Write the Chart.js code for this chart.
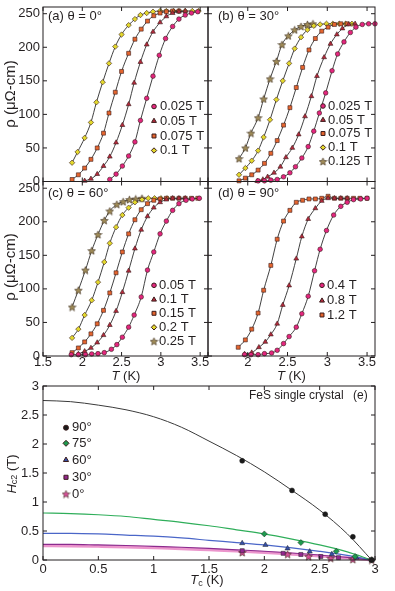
<!DOCTYPE html>
<html>
<head>
<meta charset="utf-8">
<script src="https://cdn.jsdelivr.net/npm/chart.js@4.4.1/dist/chart.umd.min.js"></script>
<style>
html, body { margin: 0; padding: 0; background: #fff; }
#wrap { position: relative; width: 395px; height: 591px; }
#wrap canvas { position: absolute; left: 0; top: 0; }
</style>
</head>
<body>
<div id="wrap">
<canvas id="pa" width="395" height="591"></canvas>
<canvas id="pb" width="395" height="591"></canvas>
<canvas id="pc" width="395" height="591"></canvas>
<canvas id="pd" width="395" height="591"></canvas>
<canvas id="pe" width="395" height="591"></canvas>
</div>
<script>
// ---------- data ----------
const tTicks = [1.5, 2, 2.5, 3, 3.5];
const rhoTicks = [0, 50, 100, 150, 200, 250];

// (a) theta = 0 deg
const aLabels = ['0.025 T', '0.05 T', '0.075 T', '0.1 T'];
const aT1 = [2.35, 2.43, 2.51, 2.59, 2.67, 2.74, 2.82, 2.90, 2.98, 3.06, 3.15, 3.23, 3.31, 3.39, 3.47];
const aR1 = [3, 11, 23, 38, 59, 91, 124, 157, 188, 213, 231, 242, 248, 251, 253];
const aT2 = [2.03, 2.11, 2.19, 2.27, 2.35, 2.43, 2.51, 2.59, 2.66, 2.74, 2.82, 2.90, 2.99, 3.07, 3.15, 3.23, 3.31];
const aR2 = [1, 4, 11, 23, 37, 58, 84, 115, 147, 178, 204, 223, 237, 246, 251, 253, 254];
const aT3 = [1.87, 1.95, 2.03, 2.11, 2.19, 2.27, 2.34, 2.42, 2.50, 2.59, 2.67, 2.75, 2.83, 2.91, 2.99, 3.07, 3.15, 3.23];
const aR3 = [3, 10, 20, 33, 50, 72, 102, 133, 164, 191, 212, 227, 239, 247, 251, 253, 254, 254];
const aT4 = [1.87, 1.94, 2.03, 2.11, 2.18, 2.26, 2.34, 2.42, 2.50, 2.59, 2.67, 2.74, 2.82, 2.90, 2.99, 3.07, 3.16, 3.23, 3.31, 3.40, 3.48];
const aR4 = [28, 44, 65, 88, 118, 148, 176, 201, 219, 233, 242, 248, 251, 253, 254, 254, 254, 254, 254, 254, 254];

// (b) theta = 30 deg
const bLabels = ['0.025 T', '0.05 T', '0.075 T', '0.1 T', '0.125 T'];
const bT1 = [2.13, 2.21, 2.29, 2.37, 2.45, 2.53, 2.60, 2.68, 2.76, 2.83, 2.90, 2.98, 3.06, 3.13, 3.21, 3.29, 3.36, 3.44, 3.52, 3.60];
const bR1 = [1, 1, 2, 3, 7, 13, 22, 35, 52, 75, 102, 132, 165, 190, 208, 222, 230, 234, 235, 235];
const bT2 = [2.12, 2.19, 2.25, 2.33, 2.41, 2.48, 2.56, 2.64, 2.72, 2.80, 2.87, 2.96, 3.04, 3.12, 3.19, 3.27, 3.35];
const bR2 = [0.5, 3, 7, 13, 22, 36, 50, 70, 97, 127, 157, 185, 205, 219, 228, 234, 235];
const bT3 = [1.89, 1.97, 2.05, 2.13, 2.21, 2.29, 2.37, 2.45, 2.53, 2.61, 2.69, 2.77, 2.85, 2.93, 3.01, 3.09, 3.17, 3.25];
const bR3 = [1, 5, 10, 17, 27, 42, 61, 84, 110, 140, 170, 196, 213, 224, 230, 234, 235, 235];
const bT4 = [1.89, 1.97, 2.05, 2.13, 2.20, 2.28, 2.36, 2.44, 2.52, 2.59, 2.67, 2.75, 2.83, 2.91, 2.99, 3.07, 3.15, 3.23, 3.31];
const bR4 = [10, 20, 31, 46, 66, 92, 122, 150, 176, 198, 215, 226, 232, 234, 235, 235, 235, 235, 235];
const bT5 = [1.89, 1.97, 2.04, 2.13, 2.20, 2.28, 2.36, 2.43, 2.51, 2.59, 2.67, 2.75, 2.82];
const bR5 = [34, 50, 72, 95, 123, 153, 179, 204, 217, 226, 231, 234, 235];

// (c) theta = 60 deg
const cLabels = ['0.05 T', '0.1 T', '0.15 T', '0.2 T', '0.25 T'];
const cT1 = [1.86, 1.95, 2.04, 2.12, 2.20, 2.28, 2.37, 2.44, 2.51, 2.59, 2.66, 2.75, 2.83, 2.91, 2.99, 3.07, 3.15, 3.23, 3.32, 3.40, 3.49];
const cR1 = [2, 2, 2, 3, 3.5, 5, 10, 17, 28, 43, 61, 88, 128, 155, 182, 201, 217, 227, 232, 234, 235];
const cT2 = [1.95, 2.03, 2.11, 2.19, 2.27, 2.35, 2.43, 2.51, 2.59, 2.67, 2.75, 2.83, 2.91, 2.99, 3.07, 3.15, 3.23, 3.31];
const cR2 = [3, 7, 12, 20, 31, 46, 67, 95, 127, 160, 188, 208, 221, 229, 233, 235, 235, 235];
const cT3 = [1.87, 1.95, 2.03, 2.11, 2.19, 2.27, 2.35, 2.43, 2.51, 2.59, 2.67, 2.75, 2.83, 2.91, 2.99, 3.07, 3.15, 3.23, 3.31, 3.39, 3.47];
const cR3 = [5, 12, 21, 33, 48, 68, 94, 124, 155, 182, 203, 218, 227, 232, 234, 235, 235, 235, 235, 235, 235];
const cT4 = [1.87, 1.95, 2.03, 2.12, 2.20, 2.28, 2.35, 2.43, 2.51, 2.59, 2.67, 2.76, 2.84, 2.92, 3.00, 3.08];
const cR4 = [27, 40, 61, 83, 110, 140, 168, 192, 210, 221, 229, 233, 235, 235, 235, 235];
const cT5 = [1.87, 1.95, 2.04, 2.12, 2.20, 2.28, 2.35, 2.44, 2.52, 2.60, 2.68, 2.76];
const cR5 = [73, 98, 128, 157, 181, 202, 216, 226, 230, 233, 234, 235];

// (d) theta = 90 deg
const dLabels = ['0.4 T', '0.8 T', '1.2 T'];
const dT1 = [1.96, 2.04, 2.13, 2.21, 2.30, 2.37, 2.45, 2.52, 2.61, 2.68, 2.76, 2.84, 2.91, 2.99, 3.08, 3.17, 3.25, 3.33, 3.42, 3.50];
const dR1 = [2, 2, 2, 3.5, 4.5, 8.5, 18.5, 29, 43, 63, 89, 127, 159, 187, 210, 223, 229, 233, 234, 235];
const dT2 = [1.96, 2.05, 2.14, 2.22, 2.29, 2.37, 2.44, 2.52, 2.61, 2.68, 2.76, 2.85, 2.93, 3.01, 3.09, 3.17, 3.25];
const dR2 = [3, 5, 13, 21, 32, 48, 76, 105, 145, 178, 204, 220, 231, 235, 235, 235, 235];
const dT3 = [1.88, 1.97, 2.05, 2.13, 2.20, 2.29, 2.37, 2.45, 2.53, 2.61, 2.69, 2.77, 2.85, 2.93, 3.01, 3.09, 3.17, 3.25, 3.33, 3.41, 3.50];
const dR3 = [13, 24, 40, 64, 98, 135, 174, 201, 217, 229, 232, 234, 234, 235, 238, 235, 235, 235, 235, 235, 235];

// (e) Hc2 vs Tc
const eTicks = [0, 0.5, 1, 1.5, 2, 2.5, 3];
const eLabels = ['90°', '75°', '60°', '30°', '0°'];
const eTc90 = [1.8, 2.25, 2.55, 2.8, 2.97];
const eH90 = [1.71, 1.2, 0.79, 0.4, 0];
const eTc75 = [2.0, 2.33, 2.65, 2.82, 2.97];
const eH75 = [0.45, 0.3, 0.15, 0.06, 0];
const eTc60 = [1.8, 2.01, 2.21, 2.41, 2.61, 2.83, 2.97];
const eH60 = [0.29, 0.26, 0.2, 0.145, 0.1, 0.04, 0];
const eTc30 = [1.8, 2.17, 2.33, 2.51, 2.67, 2.97];
const eH30 = [0.16, 0.115, 0.095, 0.06, 0.04, 0];
const eTc0 = [1.8, 2.21, 2.4, 2.6, 2.8, 2.97];
const eH0 = [0.13, 0.1, 0.06, 0.03, 0.01, 0];
// fitted curves
const fitTc = [0, 0.25, 0.5, 0.75, 1, 1.25, 1.5, 1.75, 2, 2.25, 2.5, 2.75, 2.97];
const fit90 = [2.75, 2.73, 2.67, 2.59, 2.47, 2.29, 2.05, 1.80, 1.52, 1.20, 0.86, 0.45, 0];
const fit75 = [0.81, 0.80, 0.78, 0.75, 0.70, 0.65, 0.59, 0.52, 0.45, 0.36, 0.26, 0.14, 0];
const fit60 = [0.46, 0.46, 0.45, 0.43, 0.41, 0.38, 0.34, 0.30, 0.26, 0.21, 0.15, 0.08, 0];
const fit30 = [0.27, 0.27, 0.26, 0.25, 0.235, 0.22, 0.20, 0.175, 0.15, 0.12, 0.085, 0.045, 0];
const fit0 = [0.245, 0.243, 0.235, 0.225, 0.21, 0.195, 0.175, 0.155, 0.13, 0.10, 0.07, 0.035, 0];

// ---------- styling ----------
const FONT = "'Liberation Sans', Arial, sans-serif";
const INK = '#231f20';
const YW = 40, XH = 24;   // reserved axis sizes (labels live in these boxes)
Chart.defaults.font.family = FONT;
Chart.defaults.color = INK;

function starImg(fill, size) {
  const c = document.createElement('canvas');
  c.width = c.height = size;
  const g = c.getContext('2d');
  const m = size / 2, R = m - 0.5, r = R * 0.45;
  g.beginPath();
  for (let i = 0; i < 10; i++) {
    const a = -Math.PI / 2 + i * Math.PI / 5, rr = i % 2 ? r : R;
    g.lineTo(m + rr * Math.cos(a), m + 0.4 + rr * Math.sin(a));
  }
  g.closePath();
  g.fillStyle = fill; g.fill();
  g.strokeStyle = '#3a2a1a'; g.lineWidth = 0.6; g.stroke();
  return c;
}

const marks = [
  { style: 'circle', color: '#e3267e', r: 2.3 },
  { style: 'triangle', color: '#b42a3c', r: 2.8 },
  { style: 'rect', color: '#e4652e', r: 2.8 },
  { style: 'rectRot', color: '#e2d82c', r: 2.7 },
  { style: starImg('#a08c58', 9), color: '#a08c58', r: 4 }
];
const eMarks = [
  { style: 'circle', color: '#1a1a1a', r: 2.5 },
  { style: 'rectRot', color: '#1d9a4e', r: 3 },
  { style: 'triangle', color: '#3550a8', r: 3 },
  { style: 'rect', color: '#93278f', r: 2.9 },
  { style: starImg('#d84f9a', 9), color: '#d84f9a', r: 4 }
];

const xy = (xs, ys) => xs.map((x, i) => ({ x: x, y: ys[i] }));

function runs(ctx, parts, x, y, rot, align) {
  ctx.save();
  ctx.translate(x, y);
  if (rot) ctx.rotate(rot);
  let w = 0;
  parts.forEach(p => { ctx.font = p.f; w += ctx.measureText(p.t).width; });
  let cx = align === 'left' ? 0 : -w / 2;
  ctx.textBaseline = 'middle';
  ctx.textAlign = 'left';
  ctx.fillStyle = INK;
  parts.forEach(p => {
    ctx.font = p.f;
    ctx.fillText(p.t, cx, p.dy || 0);
    cx += ctx.measureText(p.t).width;
  });
  ctx.restore();
}

const decor = {
  id: 'decor',
  afterDraw(chart, args, opts) {
    const { ctx, chartArea: a, scales } = chart;
    ctx.save();
    ctx.strokeStyle = INK;
    ctx.lineWidth = 1;
    ctx.strokeRect(a.left, a.top, a.right - a.left, a.bottom - a.top);
    const len = 4;
    ctx.beginPath();
    scales.x.ticks.forEach(t => {
      const p = scales.x.getPixelForValue(t.value);
      ctx.moveTo(p, a.bottom); ctx.lineTo(p, a.bottom - len);
      ctx.moveTo(p, a.top); ctx.lineTo(p, a.top + len);
    });
    scales.y.ticks.forEach(t => {
      const p = scales.y.getPixelForValue(t.value);
      ctx.moveTo(a.left, p); ctx.lineTo(a.left + len, p);
      ctx.moveTo(a.right, p); ctx.lineTo(a.right - len, p);
    });
    ctx.stroke();
    (opts.legend || []).forEach(it => {
      ctx.fillStyle = it.m.color;
      ctx.strokeStyle = '#3b1c1c';
      Chart.helpers.drawPoint(ctx, { pointStyle: it.m.style, radius: it.m.r, borderWidth: 0.6, rotation: 0 }, it.x, it.y);
      runs(ctx, [{ t: it.label, f: '13px ' + FONT }], it.tx, it.y, 0, 'left');
    });
    (opts.texts || []).forEach(t => runs(ctx, t.parts, t.x, t.y, t.rot, t.align));
    ctx.restore();
  }
};
Chart.register(decor);

function axis(min, max, ticks, show, pad, hide) {
  return {
    type: 'linear', min: min, max: max,
    grid: { display: false, drawTicks: false },
    border: { display: false },
    ticks: {
      display: show, padding: pad, maxRotation: 0, minRotation: 0, autoSkip: false,
      font: { size: 13, lineHeight: 1 }, color: INK,
      callback: v => (hide && hide.includes(v)) ? '' : String(v)
    },
    afterBuildTicks: s => { s.ticks = ticks.map(v => ({ value: v })); },
    afterFit: s => {
      if (s.isHorizontal()) s.height = XH; else s.width = YW;
      s.paddingLeft = s.paddingRight = s.paddingTop = s.paddingBottom = 0;
    }
  };
}

function baseOpts(rect, xAxis, yAxis, plug) {
  return {
    responsive: false, animation: false, events: [],
    layout: { padding: { left: rect.l - YW, top: rect.t, right: 395 - rect.r, bottom: 591 - rect.b - XH } },
    scales: { x: xAxis, y: yAxis },
    plugins: { legend: { display: false }, tooltip: { enabled: false }, decor: plug }
  };
}

const rhoTitle = [{ t: 'ρ (μΩ-cm)', f: '15px ' + FONT }];
const tTitle = [{ t: 'T', f: 'italic 13px ' + FONT }, { t: ' (K)', f: '13px ' + FONT }];

function rhoPanel(id, rect, xs, ys, labels, legendPos, texts, showX, showY, hideX) {
  const datasets = xs.map((x, i) => ({
    data: xy(x, ys[i]),
    showLine: true,
    borderColor: '#2b2b2b',
    borderWidth: 0.9,
    cubicInterpolationMode: 'monotone',
    pointStyle: marks[i].style,
    pointRadius: marks[i].r,
    pointBackgroundColor: marks[i].color,
    pointBorderColor: '#3b1c1c',
    pointBorderWidth: 0.6,
    clip: false
  }));
  const legend = labels.map((l, i) => ({
    m: marks[i], label: l, x: legendPos.x, tx: legendPos.tx, y: legendPos.ys[i]
  }));
  return new Chart(document.getElementById(id), {
    type: 'scatter',
    data: { datasets: datasets },
    options: baseOpts(rect,
      axis(1.5, 3.6, tTicks, showX, 0, hideX),
      axis(0, 260, rhoTicks, showY, 3),
      { legend: legend, texts: texts })
  });
}

rhoPanel('pa', { l: 43, t: 7, r: 208, b: 181.5 },
  [aT1, aT2, aT3, aT4], [aR1, aR2, aR3, aR4], aLabels,
  { x: 154, tx: 160, ys: [106.5, 121, 136, 150.5] },
  [{ parts: [{ t: '(a) θ = 0°', f: '13px ' + FONT }], x: 48, y: 16, align: 'left' },
   { parts: rhoTitle, x: 11, y: 94, rot: -Math.PI / 2 }],
  false, true);

rhoPanel('pb', { l: 208, t: 7, r: 375, b: 181.5 },
  [bT1, bT2, bT3, bT4, bT5], [bR1, bR2, bR3, bR4, bR5], bLabels,
  { x: 323, tx: 328, ys: [106, 120, 133.5, 147.5, 161.5] },
  [{ parts: [{ t: '(b) θ = 30°', f: '13px ' + FONT }], x: 218, y: 16, align: 'left' }],
  false, false);

rhoPanel('pc', { l: 43, t: 181.5, r: 208, b: 356 },
  [cT1, cT2, cT3, cT4, cT5], [cR1, cR2, cR3, cR4, cR5], cLabels,
  { x: 154, tx: 159, ys: [285.3, 299.7, 313.3, 327.3, 341.3] },
  [{ parts: [{ t: '(c) θ = 60°', f: '13px ' + FONT }], x: 48, y: 193, align: 'left' },
   { parts: rhoTitle, x: 11, y: 267, rot: -Math.PI / 2 },
   { parts: tTitle, x: 126, y: 376 }],
  true, true);

rhoPanel('pd', { l: 208, t: 181.5, r: 375, b: 356 },
  [dT1, dT2, dT3], [dR1, dR2, dR3], dLabels,
  { x: 322, tx: 327, ys: [285.3, 300.7, 315] },
  [{ parts: [{ t: '(d) θ = 90°', f: '13px ' + FONT }], x: 218, y: 193, align: 'left' },
   { parts: tTitle, x: 291.5, y: 376 }],
  true, false, [1.5]);

// (e) panel
(function () {
  const pts = [[eTc90, eH90], [eTc75, eH75], [eTc60, eH60], [eTc30, eH30], [eTc0, eH0]];
  const fits = [
    { y: fit90, c: '#3a3a3a', w: 1 },
    { y: fit75, c: '#2fae5a', w: 1.2 },
    { y: fit60, c: '#4a66c8', w: 1.2 },
    { y: fit30, c: '#8b2b8e', w: 1.1 },
    { y: fit0, c: 'rgba(232,130,195,0.85)', w: 3 }
  ];
  const datasets = pts.map((p, i) => ({
    data: xy(p[0], p[1]), showLine: false,
    pointStyle: eMarks[i].style, pointRadius: eMarks[i].r,
    pointBackgroundColor: eMarks[i].color, pointBorderColor: '#222',
    pointBorderWidth: 0.5, clip: false
  })).concat(fits.map(f => ({
    data: xy(fitTc, f.y), showLine: true, pointRadius: 0,
    borderColor: f.c, borderWidth: f.w, cubicInterpolationMode: 'monotone', clip: false
  })));
  const legend = eLabels.map((l, i) => ({
    m: eMarks[i], label: l, x: 66, tx: 72, y: [427.7, 443.3, 460, 477.3, 494][i]
  }));
  const texts = [
    { parts: [{ t: 'FeS single crystal', f: '12px ' + FONT }], x: 249, y: 396, align: 'left' },
    { parts: [{ t: '(e)', f: '12px ' + FONT }], x: 353, y: 396, align: 'left' },
    { parts: [{ t: 'H', f: 'italic 13px ' + FONT }, { t: 'c2', f: '9px ' + FONT, dy: 3 }, { t: ' (T)', f: '13px ' + FONT }],
      x: 12, y: 474, rot: -Math.PI / 2 },
    { parts: [{ t: 'T', f: 'italic 13px ' + FONT }, { t: 'c', f: '9px ' + FONT, dy: 4 }, { t: ' (K)', f: '13px ' + FONT }],
      x: 207, y: 580 }
  ];
  new Chart(document.getElementById('pe'), {
    type: 'scatter',
    data: { datasets: datasets },
    options: baseOpts({ l: 43, t: 386, r: 375, b: 560 },
      axis(0, 3, eTicks, true, 2.5),
      axis(0, 3, eTicks, true, 4),
      { legend: legend, texts: texts })
  });
})();
</script>
</body>
</html>
